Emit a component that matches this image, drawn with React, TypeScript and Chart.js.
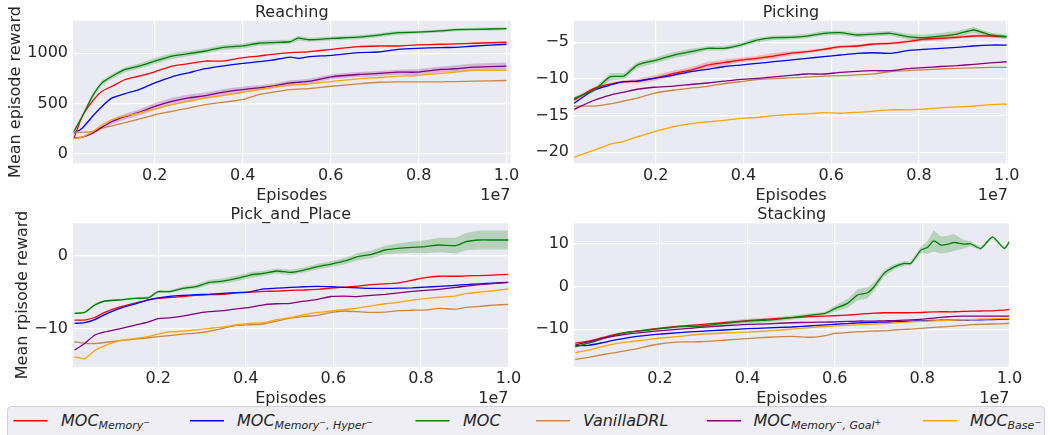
import React, { useEffect, useRef } from "react";
import { Chart, registerables } from "chart.js";

Chart.register(...registerables);

const FONT = "'DejaVu Sans'";
const TEXT = "#262626";

// ---------- Reaching ----------
const reachingX = [0.016, 0.035, 0.058, 0.08, 0.103, 0.133, 0.164, 0.2, 0.239, 0.277, 0.315, 0.353, 0.4, 0.436, 0.467, 0.508, 0.526, 0.552, 0.602, 0.662, 0.709, 0.753, 0.796, 0.85, 0.884, 0.926, 1.0];
const reachingMemory = [157, 373, 523, 623, 673, 740, 773, 817, 873, 897, 923, 923, 957, 973, 990, 1007, 1010, 1017, 1040, 1067, 1073, 1073, 1083, 1090, 1093, 1100, 1110];
const reachingMemoryHyper = [207, 257, 373, 473, 557, 600, 640, 707, 767, 807, 847, 873, 900, 917, 933, 963, 950, 967, 980, 1007, 1013, 1040, 1050, 1057, 1060, 1073, 1090];
const reachingMOC = [223, 373, 573, 707, 773, 840, 873, 923, 973, 997, 1023, 1057, 1073, 1100, 1107, 1115, 1150, 1135, 1148, 1160, 1180, 1205, 1210, 1222, 1235, 1238, 1245];
const reachingVanilla = [217, 217, 223, 257, 280, 313, 347, 390, 423, 457, 490, 513, 540, 590, 613, 640, 645, 650, 673, 697, 713, 717, 717, 717, 720, 723, 730];
const reachingMemoryGoal = [157, 167, 207, 267, 323, 373, 413, 473, 523, 557, 580, 613, 640, 657, 673, 707, 712, 723, 767, 790, 800, 813, 813, 840, 847, 863, 873];
const reachingBase = [157, 167, 221, 288, 343, 380, 407, 447, 490, 523, 557, 580, 613, 640, 663, 683, 688, 697, 720, 747, 760, 773, 780, 800, 813, 830, 830];
const reachingMOCSpread = [10, 20, 25, 25, 25, 25, 25, 30, 30, 25, 25, 25, 25, 25, 25, 20, 25, 20, 20, 20, 20, 20, 15, 15, 15, 15, 15];
const reachingMemoryGoalSpread = [5, 10, 15, 20, 25, 30, 30, 35, 35, 35, 30, 30, 30, 25, 25, 25, 25, 25, 25, 25, 25, 25, 30, 30, 35, 35, 35];
const reachingYTicks = [0, 500, 1000];

// ---------- Picking ----------
const pickingX = [0.014, 0.06, 0.097, 0.128, 0.158, 0.196, 0.242, 0.28, 0.318, 0.355, 0.393, 0.431, 0.469, 0.507, 0.545, 0.583, 0.621, 0.659, 0.697, 0.735, 0.773, 0.811, 0.849, 0.887, 0.925, 0.963, 1.0];
const pickingMemory = [-12.87, -11.28, -10.69, -10.37, -10.28, -9.91, -9.23, -8.78, -8.1, -7.78, -7.42, -7.18, -6.87, -6.5, -6.28, -5.96, -5.6, -5.5, -5.23, -5.14, -4.91, -4.55, -4.45, -4.32, -4.14, -4.14, -4.23];
const pickingMemoryHyper = [-13.3, -11.5, -10.82, -10.37, -10.28, -9.91, -9.46, -9.0, -8.68, -8.33, -8.1, -7.87, -7.64, -7.42, -7.18, -6.96, -6.73, -6.5, -6.42, -6.5, -6.14, -5.96, -5.82, -5.68, -5.5, -5.37, -5.37];
const pickingMOC = [-12.64, -11.5, -9.69, -9.6, -8.1, -7.5, -6.73, -6.28, -5.82, -5.82, -5.37, -4.69, -4.37, -4.33, -4.14, -3.77, -3.69, -4.0, -3.87, -3.77, -4.23, -4.37, -4.14, -3.87, -3.32, -4.0, -4.23];
const pickingVanilla = [-13.7, -13.7, -13.4, -13.0, -12.6, -11.95, -11.5, -11.25, -11.0, -10.65, -10.37, -10.1, -9.95, -9.85, -9.75, -9.6, -9.55, -9.45, -9.3, -9.0, -8.85, -8.75, -8.64, -8.55, -8.48, -8.41, -8.41];
const pickingMemoryGoal = [-14.14, -12.9, -12.2, -11.8, -11.4, -11.13, -10.96, -10.75, -10.55, -10.3, -10.05, -9.93, -9.7, -9.5, -9.32, -9.32, -9.1, -8.95, -8.87, -8.87, -8.6, -8.45, -8.3, -8.18, -8.0, -7.8, -7.65];
const pickingBase = [-20.69, -19.7, -18.9, -18.5, -17.9, -17.2, -16.5, -16.1, -15.85, -15.65, -15.37, -15.25, -15.0, -14.85, -14.75, -14.6, -14.67, -14.55, -14.4, -14.2, -14.2, -14.1, -13.95, -13.8, -13.7, -13.5, -13.42];
const pickingMOCSpread = [0.2, 0.3, 0.5, 0.4, 0.4, 0.4, 0.4, 0.4, 0.3, 0.3, 0.3, 0.3, 0.3, 0.3, 0.3, 0.3, 0.3, 0.3, 0.3, 0.3, 0.4, 0.4, 0.4, 0.4, 0.4, 0.3, 0.3];
const pickingMemorySpread = [0.1, 0.2, 0.2, 0.2, 0.3, 0.4, 0.4, 0.4, 0.4, 0.4, 0.3, 0.3, 0.4, 0.3, 0.2, 0.2, 0.2, 0.2, 0.2, 0.2, 0.2, 0.3, 0.3, 0.2, 0.2, 0.2, 0.2];
const pickingYTicks = [-20, -15, -10, -5];

// ---------- Pick_and_Place ----------
const pnpX = [0.009, 0.032, 0.055, 0.078, 0.109, 0.148, 0.178, 0.2, 0.225, 0.256, 0.286, 0.317, 0.348, 0.379, 0.41, 0.44, 0.471, 0.502, 0.533, 0.564, 0.595, 0.626, 0.656, 0.687, 0.718, 0.749, 0.78, 0.81, 0.841, 0.88, 0.903, 0.934, 0.965, 1.0];
const pnpMemory = [-8.85, -8.85, -8.5, -7.8, -7.1, -6.5, -6.05, -5.85, -5.75, -5.6, -5.45, -5.35, -5.3, -5.1, -5.0, -4.9, -4.85, -4.75, -4.7, -4.6, -4.45, -4.3, -4.15, -3.95, -3.85, -3.7, -3.35, -3.0, -2.8, -2.8, -2.75, -2.7, -2.63, -2.54];
const pnpMemoryHyper = [-9.31, -9.22, -8.8, -8.1, -7.3, -6.6, -6.05, -5.8, -5.6, -5.45, -5.35, -5.28, -5.16, -5.05, -4.95, -4.55, -4.45, -4.35, -4.25, -4.2, -4.25, -4.35, -4.4, -4.47, -4.47, -4.45, -4.4, -4.3, -4.2, -4.05, -3.95, -3.85, -3.75, -3.64];
const pnpMOC = [-7.93, -7.8, -6.78, -6.22, -6.08, -5.85, -5.76, -4.93, -4.93, -4.47, -4.24, -3.64, -3.46, -3.09, -2.63, -2.4, -2.07, -2.26, -1.94, -1.48, -1.11, -0.69, -0.09, 0.23, 0.83, 1.06, 1.2, 1.29, 1.52, 1.43, 1.98, 2.21, 2.21, 2.21];
const pnpVanilla = [-11.85, -12.08, -12.1, -11.95, -11.7, -11.5, -11.3, -11.15, -11.0, -10.8, -10.65, -10.4, -10.0, -9.6, -9.5, -9.4, -9.0, -8.6, -8.35, -8.2, -7.8, -7.6, -7.7, -7.8, -7.75, -7.55, -7.5, -7.45, -7.25, -7.33, -7.1, -6.95, -6.8, -6.68];
const pnpMemoryGoal = [-13.0, -12.1, -10.95, -10.5, -10.1, -9.55, -9.1, -8.65, -8.55, -8.3, -7.95, -7.7, -7.55, -7.3, -7.1, -6.75, -6.6, -6.55, -6.25, -6.0, -5.6, -5.55, -5.6, -5.45, -5.3, -5.1, -4.9, -4.75, -4.6, -4.35, -4.15, -3.95, -3.8, -3.64];
const pnpBase = [-13.93, -14.2, -13.1, -12.4, -11.75, -11.4, -11.1, -10.8, -10.5, -10.4, -10.2, -10.0, -9.8, -9.5, -9.3, -9.2, -8.8, -8.5, -8.1, -7.8, -7.6, -7.4, -7.2, -6.9, -6.6, -6.4, -6.1, -5.9, -5.7, -5.5, -5.2, -5.0, -4.8, -4.56];
const pnpMOCSpread = [0.1, 0.1, 0.15, 0.15, 0.15, 0.15, 0.2, 0.2, 0.2, 0.25, 0.3, 0.35, 0.35, 0.4, 0.4, 0.35, 0.35, 0.35, 0.35, 0.4, 0.4, 0.45, 0.5, 0.55, 0.6, 0.7, 0.8, 0.9, 1.0, 1.1, 1.2, 1.3, 1.3, 1.3];
const pnpYTicks = [-10, 0];

// ---------- Stacking ----------
const stackingX = [0.006, 0.036, 0.067, 0.098, 0.136, 0.191, 0.245, 0.291, 0.346, 0.4, 0.447, 0.501, 0.547, 0.578, 0.6, 0.629, 0.652, 0.675, 0.69, 0.713, 0.736, 0.759, 0.774, 0.797, 0.812, 0.827, 0.843, 0.858, 0.873, 0.896, 0.911, 0.934, 0.961, 0.988, 1.0];
const stackingMemory = [-13.3, -12.8, -12.0, -11.2, -10.6, -9.9, -9.3, -8.95, -8.5, -8.03, -7.65, -7.3, -7.05, -6.95, -6.86, -6.7, -6.54, -6.35, -6.25, -6.16, -6.16, -6.16, -6.15, -6.1, -6.0, -5.95, -5.93, -5.93, -5.93, -5.85, -5.8, -5.75, -5.7, -5.55, -5.4];
const stackingMemoryHyper = [-13.9, -13.8, -13.2, -12.5, -11.85, -11.25, -10.8, -10.5, -10.2, -9.9, -9.7, -9.5, -9.2, -9.0, -8.85, -8.7, -8.55, -8.45, -8.4, -8.35, -8.3, -8.2, -8.1, -8.05, -8.0, -7.95, -7.9, -7.9, -7.9, -7.9, -7.85, -7.8, -7.75, -7.65, -7.6];
const stackingMOC = [-14.1, -13.3, -12.3, -11.4, -10.6, -10.0, -9.4, -9.3, -8.65, -8.1, -7.9, -7.3, -6.7, -6.3, -5.2, -3.96, -2.0, -1.47, -0.07, 3.07, 4.6, 5.4, 5.4, 8.52, 9.15, 10.7, 9.7, 9.9, 10.3, 9.9, 10.0, 8.9, 11.6, 8.9, 10.5];
const stackingVanilla = [-17.1, -16.6, -16.0, -15.5, -14.8, -13.6, -13.0, -12.95, -12.6, -12.2, -11.9, -11.7, -11.9, -11.5, -11.0, -10.8, -10.6, -10.5, -10.45, -10.4, -10.2, -10.05, -10.0, -9.8, -9.7, -9.58, -9.5, -9.4, -9.27, -9.1, -8.95, -8.9, -8.8, -8.7, -8.65];
const stackingMemoryGoal = [-13.7, -13.0, -12.2, -11.6, -11.0, -10.45, -10.0, -9.6, -9.2, -8.9, -8.75, -8.5, -8.4, -8.35, -8.3, -8.2, -8.1, -8.1, -8.1, -8.05, -8.0, -7.9, -7.85, -7.7, -7.55, -7.4, -7.25, -7.1, -7.0, -6.95, -6.95, -6.95, -6.95, -6.95, -6.95];
const stackingBase = [-15.5, -14.9, -14.1, -13.4, -12.9, -12.2, -11.7, -11.2, -10.9, -10.7, -10.4, -10.0, -9.6, -9.4, -9.25, -9.1, -9.0, -8.85, -8.8, -8.7, -8.55, -8.4, -8.3, -8.2, -8.1, -8.05, -8.0, -7.95, -7.9, -7.8, -7.75, -7.65, -7.6, -7.5, -7.45];
const stackingMOCSpread = [0.2, 0.2, 0.2, 0.2, 0.2, 0.3, 0.3, 0.4, 0.5, 0.6, 0.5, 0.5, 0.4, 0.4, 0.7, 1.0, 1.3, 1.3, 1.0, 0.8, 0.6, 0.5, 0.5, 0.8, 1.5, 2.5, 2.0, 2.0, 2.0, 1.0, 0.6, 0.4, 0.3, 0.3, 0.3];
const stackingYTicks = [-10, 0, 10];

const xTicks = [0.2, 0.4, 0.6, 0.8, 1.0];

// series order: MOC_Memory-, MOC_Memory-,Hyper-, MOC, VanillaDRL, MOC_Memory-,Goal+, MOC_Base-
const seriesColors = ["#ff0000", "#0000ff", "#008000", "#cd853f", "#800080", "#ffa500"];
const legendLabels = [
  { main: "MOC", sub: [["Memory", "−"]] },
  { main: "MOC", sub: [["Memory", "−"], ["Hyper", "−"]] },
  { main: "MOC", sub: [] as string[][] },
  { main: "VanillaDRL", sub: [] as string[][] },
  { main: "MOC", sub: [["Memory", "−"], ["Goal", "+"]] },
  { main: "MOC", sub: [["Base", "−"]] },
];

type PanelCfg = {
  title: string;
  ylabel?: string;
  ylabelX?: number;
  x: number[];
  series: number[][];
  spreads: { [k: number]: number[] };
  xMin: number;
  xMax: number;
  yMin: number;
  yMax: number;
  yTicks: number[];
  box: { left: number; top: number; width: number; height: number };
  area: { left: number; right: number; top: number; bottom: number };
};

const panels: PanelCfg[] = [
  {
    title: "Reaching",
    ylabel: "Mean episode reward",
    ylabelX: 20,
    x: reachingX,
    series: [reachingMemory, reachingMemoryHyper, reachingMOC, reachingVanilla, reachingMemoryGoal, reachingBase],
    spreads: { 2: reachingMOCSpread, 4: reachingMemoryGoalSpread },
    xMin: 0.014,
    xMax: 1.009,
    yMin: -92,
    yMax: 1324,
    yTicks: reachingYTicks,
    box: { left: 0, top: 0, width: 526, height: 205 },
    area: { left: 73, right: 510.5, top: 20.7, bottom: 163.3 },
  },
  {
    title: "Picking",
    x: pickingX,
    series: [pickingMemory, pickingMemoryHyper, pickingMOC, pickingVanilla, pickingMemoryGoal, pickingBase],
    spreads: { 0: pickingMemorySpread, 2: pickingMOCSpread },
    xMin: 0.014,
    xMax: 1.003,
    yMin: -21.5,
    yMax: -2.05,
    yTicks: pickingYTicks,
    box: { left: 526, top: 0, width: 526, height: 205 },
    area: { left: 574, right: 1008, top: 20.7, bottom: 163.3 },
  },
  {
    title: "Pick_and_Place",
    ylabel: "Mean rpisode reward",
    ylabelX: 26.7,
    x: pnpX,
    series: [pnpMemory, pnpMemoryHyper, pnpMOC, pnpVanilla, pnpMemoryGoal, pnpBase],
    spreads: { 2: pnpMOCSpread },
    xMin: 0.0055,
    xMax: 1.0,
    yMin: -15.3,
    yMax: 4.52,
    yTicks: pnpYTicks,
    box: { left: 0, top: 200, width: 526, height: 210 },
    area: { left: 73, right: 508.5, top: 223.3, bottom: 366.7 },
  },
  {
    title: "Stacking",
    x: stackingX,
    series: [stackingMemory, stackingMemoryHyper, stackingMOC, stackingVanilla, stackingMemoryGoal, stackingBase],
    spreads: { 2: stackingMOCSpread },
    xMin: 0.003,
    xMax: 1.0,
    yMin: -18.8,
    yMax: 14.8,
    yTicks: stackingYTicks,
    box: { left: 526, top: 200, width: 526, height: 210 },
    area: { left: 574, right: 1009.5, top: 223.3, bottom: 366.7 },
  },
];

function hexToRgba(hex: string, a: number) {
  const n = parseInt(hex.slice(1), 16);
  return `rgba(${(n >> 16) & 255},${(n >> 8) & 255},${n & 255},${a})`;
}

function fmtTick(v: number) {
  return v < 0 ? "−" + Math.abs(v) : String(v);
}

function PanelChart({ p }: { p: PanelCfg }) {
  const ref = useRef<HTMLCanvasElement>(null);
  useEffect(() => {
    if (!ref.current) return;
    const datasets: any[] = [];
    p.series.forEach((vals, i) => {
      const sp = p.spreads[i];
      if (sp) {
        datasets.push({
          data: p.x.map((x, k) => ({ x, y: vals[k] + sp[k] })),
          borderWidth: 0,
          borderColor: "rgba(0,0,0,0)",
          pointRadius: 0,
          fill: false,
          order: 100,
        });
        datasets.push({
          data: p.x.map((x, k) => ({ x, y: vals[k] - sp[k] })),
          borderWidth: 0,
          borderColor: "rgba(0,0,0,0)",
          pointRadius: 0,
          fill: "-1",
          backgroundColor: hexToRgba(seriesColors[i], 0.22),
          order: 100,
        });
      }
    });
    p.series.forEach((vals, i) => {
      datasets.push({
        data: p.x.map((x, k) => ({ x, y: vals[k] })),
        borderColor: seriesColors[i],
        borderWidth: 1.3,
        pointRadius: 0,
        fill: false,
        tension: 0.2,
        order: 10 - i,
      });
    });

    const decor = {
      id: "decor",
      beforeDraw(chart: any) {
        const { ctx, chartArea: a } = chart;
        ctx.save();
        ctx.fillStyle = "#EAEAF2";
        ctx.fillRect(a.left, a.top, a.right - a.left, a.bottom - a.top);
        ctx.restore();
      },
      afterDraw(chart: any) {
        const { ctx, chartArea: a } = chart;
        ctx.save();
        ctx.fillStyle = TEXT;
        ctx.font = `16px ${FONT}`;
        ctx.textBaseline = "alphabetic";
        const cx = (a.left + a.right) / 2;
        ctx.textAlign = "center";
        ctx.fillText(p.title, cx, a.top - 4);
        ctx.fillText("Episodes", cx, a.bottom + 36.3);
        ctx.textAlign = "right";
        ctx.fillText("1e7", a.right, a.bottom + 36.3);
        if (p.ylabel) {
          ctx.translate((p.ylabelX || 20) - p.box.left, (a.top + a.bottom) / 2);
          ctx.rotate(-Math.PI / 2);
          ctx.textAlign = "center";
          ctx.fillText(p.ylabel, 0, 0);
        }
        ctx.restore();
      },
    };

    const boxBottom = p.box.top + p.box.height;
    const chart = new Chart(ref.current, {
      type: "line",
      data: { datasets },
      plugins: [decor],
      options: {
        animation: false,
        responsive: false,
        devicePixelRatio: 1,
        events: [],
        layout: {
          padding: {
            left: 0,
            top: p.area.top - p.box.top,
            right: p.box.left + p.box.width - p.area.right,
            bottom: 0,
          },
        },
        plugins: {
          legend: { display: false },
          tooltip: { enabled: false },
          title: { display: false },
        },
        scales: {
          x: {
            type: "linear",
            min: p.xMin,
            max: p.xMax,
            afterBuildTicks: (ax: any) => {
              ax.ticks = xTicks.map((v) => ({ value: v }));
            },
            afterFit: (s: any) => {
              s.height = boxBottom - p.area.bottom;
            },
            grid: { color: "#ffffff", lineWidth: 1.2, drawTicks: false },
            border: { display: false },
            ticks: {
              autoSkip: false,
              maxRotation: 0,
              padding: 3,
              color: TEXT,
              font: { family: FONT, size: 16 },
              callback: (v: any) => Number(v).toFixed(1),
            },
          },
          y: {
            type: "linear",
            min: p.yMin,
            max: p.yMax,
            afterBuildTicks: (ax: any) => {
              ax.ticks = p.yTicks.map((v) => ({ value: v }));
            },
            afterFit: (s: any) => {
              s.width = p.area.left - p.box.left;
            },
            grid: { color: "#ffffff", lineWidth: 1.2, drawTicks: false },
            border: { display: false },
            ticks: {
              autoSkip: false,
              padding: 5,
              color: TEXT,
              font: { family: FONT, size: 16 },
              callback: (v: any) => fmtTick(Number(v)),
            },
          },
        },
      } as any,
    });
    return () => chart.destroy();
  }, [p]);
  return (
    <canvas
      ref={ref}
      width={p.box.width}
      height={p.box.height}
      style={{ position: "absolute", left: p.box.left, top: p.box.top, width: p.box.width, height: p.box.height }}
    />
  );
}

const legendPos = [
  { x1: 13.5, x2: 47.5, tx: 61 },
  { x1: 190, x2: 224, tx: 237 },
  { x1: 415.5, x2: 449.5, tx: 463 },
  { x1: 536, x2: 570, tx: 583 },
  { x1: 707, x2: 741, tx: 753.5 },
  { x1: 923, x2: 957, tx: 970 },
];

function Legend() {
  return (
    <>
      <div
        style={{
          position: "absolute",
          left: 7,
          top: 406,
          width: 1038,
          height: 40,
          border: "1px solid #cfcfd6",
          borderRadius: 4,
          background: "#eeeef4",
          boxSizing: "border-box",
        }}
      />
      <svg style={{ position: "absolute", left: 0, top: 400, width: 1052, height: 35 }} width={1052} height={35}>
        {legendPos.map((lp, i) => (
          <line key={i} x1={lp.x1} x2={lp.x2} y1={20.7} y2={20.7} stroke={seriesColors[i]} strokeWidth={1.4} />
        ))}
      </svg>
      {legendLabels.map((l, i) => (
        <div
          key={i}
          style={{
            position: "absolute",
            left: legendPos[i].tx,
            top: 410.5,
            lineHeight: "20px",
            fontFamily: FONT,
            fontSize: 16,
            fontStyle: "italic",
            color: TEXT,
            whiteSpace: "nowrap",
          }}
        >
          {l.main}
          {l.sub.length > 0 && (
            <span style={{ fontSize: 11, verticalAlign: "-3.3px" }}>
              {l.sub.map((s, k) => (
                <React.Fragment key={k}>
                  {k > 0 ? ", " : ""}
                  {s[0]}
                  <span style={{ fontSize: 8, verticalAlign: "4px" }}>{s[1]}</span>
                </React.Fragment>
              ))}
            </span>
          )}
        </div>
      ))}
    </>
  );
}

export default function App() {
  return (
    <div
      style={{
        position: "fixed",
        left: 0,
        top: 0,
        width: 1052,
        height: 435,
        overflow: "hidden",
        background: "#ffffff",
      }}
    >
      {panels.map((p, i) => (
        <PanelChart key={i} p={p} />
      ))}
      <Legend />
    </div>
  );
}
